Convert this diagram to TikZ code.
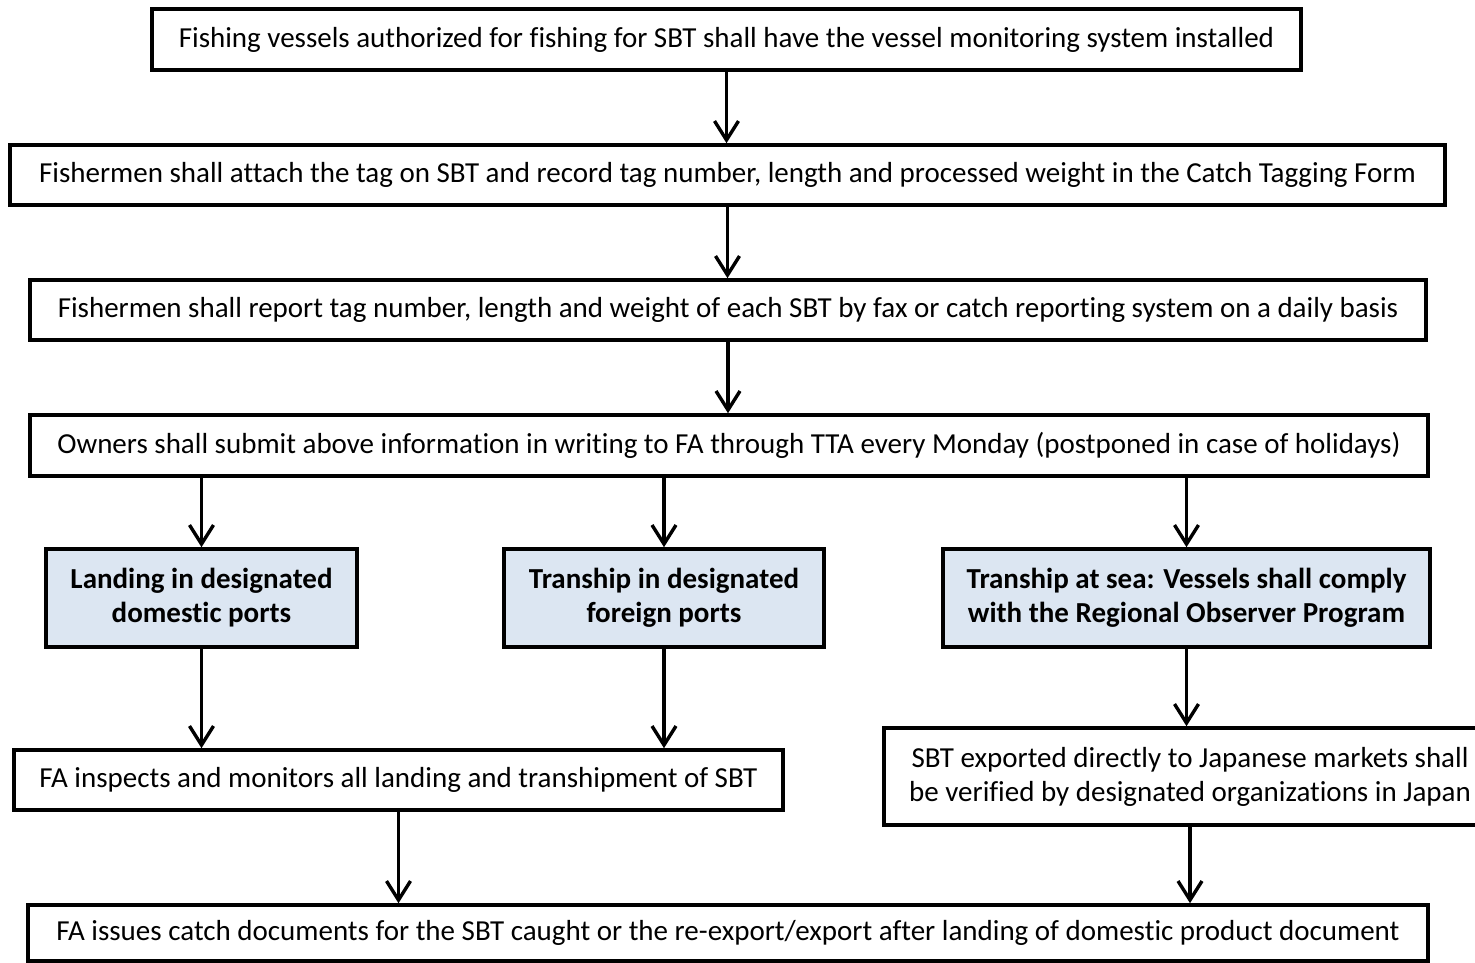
\documentclass[tikz,border=0pt]{standalone}
\usepackage{fontspec}
\setmainfont{Carlito}[Ligatures=NoCommon]
\usetikzlibrary{arrows.meta,calc}
\definecolor{boxblue}{HTML}{DCE6F2}
\begin{document}
\begin{tikzpicture}[x=1pt,y=-1pt,
  every node/.style={font=\fontsize{29}{34}\selectfont},
  plainbox/.style={draw=black, line width=3.6pt, fill=white, align=center, inner sep=0pt},
  bluebox/.style={plainbox, fill=boxblue, font=\fontsize{29}{34}\selectfont\bfseries},
  arr/.style={line width=3.4pt, -{Straight Barb[length=19pt,width=24pt,line width=3.4pt]}}
]
\useasboundingbox (0,0) rectangle (1475,963);
\clip (0,0) rectangle (1475,963);
\node[plainbox, minimum width=1149pt, minimum height=61pt] (b1) at (726.5,39.5)
  {Fishing vessels authorized for fishing for SBT shall have the vessel monitoring system installed};
\node[plainbox, minimum width=1435pt, minimum height=60pt] (b2) at (727.5,175)
  {Fishermen shall attach the tag on SBT and record tag number, length and processed weight in the Catch Tagging Form};
\node[plainbox, minimum width=1396pt, minimum height=60pt] (b3) at (728,310)
  {Fishermen shall report tag number, length and weight of each SBT by fax or catch reporting system on a daily basis};
\node[plainbox, minimum width=1398pt, minimum height=61pt] (b4) at (729,445.5)
  {Owners shall submit above information in writing to FA through TTA every Monday (postponed in case of holidays)};
\node[bluebox, minimum width=311pt, minimum height=98pt] (l1) at (201.5,598)
  {Landing in designated\\domestic ports};
\node[bluebox, minimum width=320pt, minimum height=98pt] (l2) at (664,598)
  {Tranship in designated\\foreign ports};
\node[bluebox, minimum width=487pt, minimum height=98pt] (l3) at (1186.5,598)
  {Tranship at sea: Vessels shall comply\\with the Regional Observer Program};
\node[plainbox, minimum width=769pt, minimum height=60pt] (fa) at (398.5,780)
  {FA inspects and monitors all landing and transhipment of SBT};
\node[plainbox, minimum width=612pt, minimum height=97pt] (sbt) at (1190,776.5)
  {SBT exported directly to Japanese markets shall\\be verified by designated organizations in Japan};
\node[plainbox, minimum width=1400pt, minimum height=56pt] (fin) at (728,933)
  {FA issues catch documents for the SBT caught or the re-export/export after landing of domestic product document};
\draw[arr] (b1.south) -- (b1.south |- b2.north);
\draw[arr] (b2.south) -- (b2.south |- b3.north);
\draw[arr] (b3.south) -- (b3.south |- b4.north);
\draw[arr] (b4.south -| l1.north) -- (l1.north);
\draw[arr] (b4.south -| l2.north) -- (l2.north);
\draw[arr] (b4.south -| l3.north) -- (l3.north);
\draw[arr] (l1.south) -- (l1.south |- fa.north);
\draw[arr] (l2.south) -- (l2.south |- fa.north);
\draw[arr] (l3.south) -- (l3.south |- sbt.north);
\draw[arr] (fa.south) -- (fa.south |- fin.north);
\draw[arr] (sbt.south) -- (sbt.south |- fin.north);
\end{tikzpicture}
\end{document}
